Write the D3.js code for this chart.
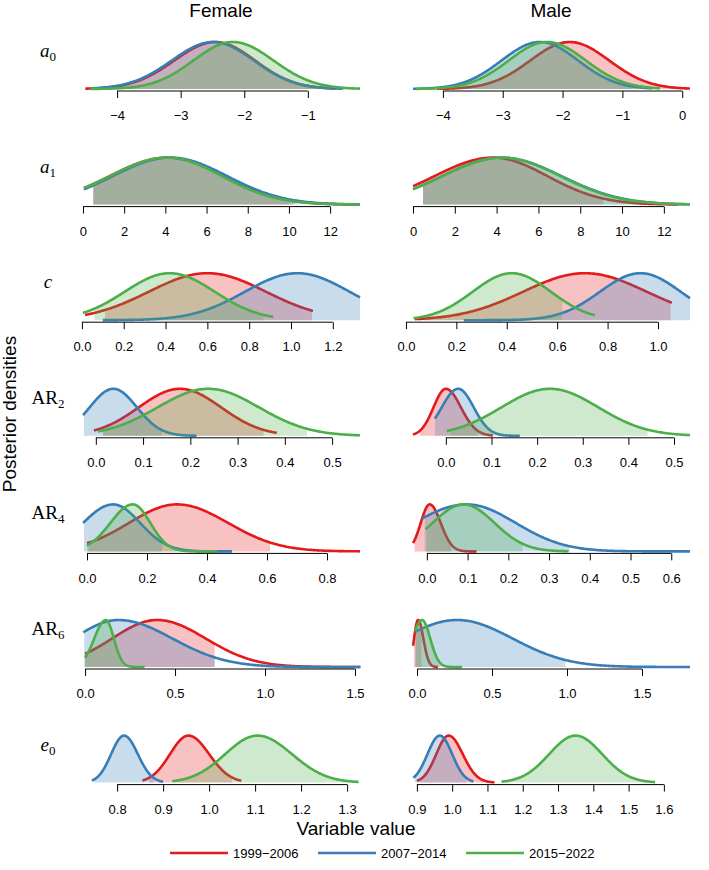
<!DOCTYPE html>
<html lang="en">
<head>
<meta charset="UTF-8">
<title>Posterior densities</title>
<style>
  body { margin: 0; background: #fff; }
  svg { display: block; font-family: "Liberation Sans", Arial, sans-serif; }
  .tick text { font-size: 13px; fill: #000; }
  .tick line, .domain { stroke: #000; stroke-width: 1; }
  .rowlab { font-family: "Liberation Serif", "DejaVu Serif", serif; font-size: 19px; }
</style>
</head>
<body>
<div id="chart"></div>
<script src="https://cdn.jsdelivr.net/npm/d3@7/dist/d3.min.js"></script>
<script>
// ---- data ----
const sexes = ["Female", "Male"];
const params = ["a0", "a1", "c", "AR2", "AR4", "AR6", "e0"];
const periods = ["1999\u22122006", "2007\u22122014", "2015\u22122022"];

const femaleTicks = [
  [-4, -3, -2, -1],
  [0, 2, 4, 6, 8, 10, 12],
  [0, 0.2, 0.4, 0.6, 0.8, 1.0, 1.2],
  [0, 0.1, 0.2, 0.3, 0.4, 0.5],
  [0, 0.2, 0.4, 0.6, 0.8],
  [0, 0.5, 1.0, 1.5],
  [0.8, 0.9, 1.0, 1.1, 1.2, 1.3]
];
const maleTicks = [
  [-4, -3, -2, -1, 0],
  [0, 2, 4, 6, 8, 10, 12],
  [0, 0.2, 0.4, 0.6, 0.8, 1.0],
  [0, 0.1, 0.2, 0.3, 0.4, 0.5],
  [0, 0.1, 0.2, 0.3, 0.4, 0.5, 0.6],
  [0, 0.5, 1.0, 1.5],
  [0.9, 1.0, 1.1, 1.2, 1.3, 1.4, 1.5, 1.6]
];
// x range shown in each panel
const femaleLim = [[-4.52, -0.18], [0.05, 13.45], [0.01, 1.33], [-0.025, 0.559], [-0.01, 0.91], [-0.006, 1.528], [0.728, 1.328]];
const maleLim = [[-4.50, 0.13], [0.0, 13.25], [0.028, 1.127], [-0.072, 0.535], [-0.034, 0.646], [-0.027, 1.82], [0.889, 1.674]];

// each row: [line from, line to, mode, spread left, spread right, shade from, shade to]
// order: 1999-2006, 2007-2014, 2015-2022
const femaleA0 = [[-4.50, -0.55, -2.45, 0.65, 0.62, -3.98, -0.90], [-4.40, -0.45, -2.49, 0.65, 0.64, -3.98, -0.87], [-4.42, -0.18, -2.18, 0.62, 0.64, -3.85, -0.62]];
const maleA0 = [[-4.10, 0.13, -1.88, 0.66, 0.66, -3.63, -0.12], [-4.50, -0.51, -2.38, 0.64, 0.64, -3.88, -0.82], [-4.45, -0.37, -2.26, 0.64, 0.65, -3.88, -0.71]];
const femaleA1 = [[0.05, 13.40, 4.10, 2.80, 2.70, 0.5, 10.2], [0.05, 13.45, 4.25, 2.80, 2.75, 0.5, 10.4], [0.05, 13.45, 4.10, 2.80, 2.65, 0.5, 10.0]];
const maleA1 = [[0.0, 12.70, 3.83, 2.80, 2.60, 0.48, 9.1], [0.0, 13.25, 4.25, 2.85, 2.85, 0.48, 10.8], [0.0, 13.25, 4.25, 2.85, 2.80, 0.48, 10.7]];
const femaleC = [[0.015, 1.105, 0.60, 0.28, 0.28, 0.11, 1.10], [0.10, 1.33, 1.03, 0.25, 0.25, 0.10, 1.33], [0.005, 0.915, 0.42, 0.215, 0.215, 0.06, 0.87]];
const maleC = [[0.036, 1.055, 0.71, 0.245, 0.245, 0.05, 1.05], [0.23, 1.127, 0.93, 0.16, 0.16, 0.23, 1.127], [0.03, 0.75, 0.42, 0.155, 0.155, 0.07, 0.62]];
const femaleAR2 = [[-0.004, 0.383, 0.178, 0.087, 0.087, 0.015, 0.355], [-0.027, 0.213, 0.037, 0.05, 0.05, -0.025, 0.14], [0.005, 0.559, 0.238, 0.107, 0.107, 0.015, 0.447]];
const maleAR2 = [[-0.072, 0.103, 0.0, 0.027, 0.033, -0.057, 0.07], [-0.024, 0.162, 0.027, 0.036, 0.034, -0.024, 0.10], [0.002, 0.535, 0.228, 0.106, 0.106, 0.01, 0.442]];
const femaleAR4 = [[0.0, 0.91, 0.30, 0.16, 0.17, 0.005, 0.61], [-0.013, 0.483, 0.087, 0.10, 0.09, -0.01, 0.25], [0.0, 0.433, 0.153, 0.075, 0.058, 0.0, 0.30]];
const maleAR4 = [[-0.034, 0.122, 0.007, 0.022, 0.027, -0.03, 0.06], [-0.012, 0.646, 0.098, 0.13, 0.12, -0.005, 0.35], [-0.003, 0.348, 0.09, 0.076, 0.076, 0.0, 0.235]];
const femaleAR6 = [[0.0, 1.53, 0.40, 0.25, 0.27, 0.0, 0.72], [-0.01, 1.53, 0.185, 0.25, 0.30, -0.005, 0.72], [0.0, 0.33, 0.115, 0.064, 0.045, 0.0, 0.25]];
const maleAR6 = [[-0.027, 0.14, 0.007, 0.027, 0.035, -0.02, 0.03], [-0.013, 1.82, 0.267, 0.37, 0.37, -0.01, 0.99], [-0.013, 0.30, 0.033, 0.063, 0.055, -0.01, 0.15]];
const femaleE0 = [[0.855, 1.07, 0.955, 0.04, 0.045, 0.87, 1.05], [0.745, 0.90, 0.815, 0.028, 0.03, 0.75, 0.88], [0.92, 1.325, 1.105, 0.07, 0.075, 0.93, 1.30]];
const maleE0 = [[0.90, 1.12, 0.99, 0.035, 0.04, 0.91, 1.09], [0.89, 1.06, 0.965, 0.035, 0.035, 0.895, 1.04], [1.14, 1.575, 1.35, 0.075, 0.075, 1.15, 1.55]];

const femaleCurves = [femaleA0, femaleA1, femaleC, femaleAR2, femaleAR4, femaleAR6, femaleE0];
const maleCurves = [maleA0, maleA1, maleC, maleAR2, maleAR4, maleAR6, maleE0];

// ---- layout ----
const width = 709, height = 870;
const colors = ["#E41A1C", "#377EB8", "#4DAF4A"];
const colRange = [[84, 360], [413, 690]];
const rowAxisY = i => 91 + 115.6 * i;

const svg = d3.select("#chart").append("svg")
  .attr("width", width)
  .attr("height", height);
svg.append("rect").attr("width", width).attr("height", height).attr("fill", "#fff");

// row labels: [main, subscript, italic]
const rowLabels = [["a", "0", true], ["a", "1", true], ["c", "", true], ["AR", "2", false], ["AR", "4", false], ["AR", "6", false], ["e", "0", true]];

const fmt = [d3.format("d"), d3.format("d"), d3.format(".1f"), d3.format(".1f"), d3.format(".1f"), d3.format(".1f"), d3.format(".1f")];

params.forEach((p, i) => {
  const ay = rowAxisY(i);

  const lab = svg.append("text").attr("class", "rowlab")
    .attr("x", 48).attr("y", ay - 34)
    .attr("text-anchor", "middle");
  lab.append("tspan").text(rowLabels[i][0])
    .style("font-style", rowLabels[i][2] ? "italic" : "normal");
  if (rowLabels[i][1]) {
    lab.append("tspan").text(rowLabels[i][1])
      .attr("dy", 4).style("font-size", "13px");
  }

  [femaleCurves, maleCurves].forEach((set, c) => {
    const lim = c === 0 ? femaleLim[i] : maleLim[i];
    const ticks = c === 0 ? femaleTicks[i] : maleTicks[i];
    const x = d3.scaleLinear().domain(lim).range(colRange[c]);
    const y = d3.scaleLinear().domain([0, 1]).range([ay - 2, ay - 49]);

    const g = svg.append("g");
    set[i].forEach((cv, k) => {
      const [lo, hi, mode, sl, sr, s0, s1] = cv;
      const dens = v => {
        const s = v < mode ? sl : sr;
        return Math.exp(-((v - mode) * (v - mode)) / (2 * s * s));
      };
      const xs = d3.range(0, 201).map(j => lo + (hi - lo) * j / 200);
      const ss = d3.range(0, 201).map(j => s0 + (s1 - s0) * j / 200);

      g.append("path")
        .attr("d", d3.line().x(v => x(v)).y(v => y(dens(v)))(xs))
        .attr("fill", "none")
        .attr("stroke", colors[k])
        .attr("stroke-width", 2.6);

      g.append("path")
        .attr("d", d3.area().x(v => x(v)).y0(y(0)).y1(v => y(dens(v)))(ss))
        .attr("fill", colors[k])
        .attr("fill-opacity", 0.27);
    });

    const axis = d3.axisBottom(x)
      .tickValues(ticks)
      .tickFormat(fmt[i])
      .tickSize(7)
      .tickSizeOuter(0)
      .tickPadding(13);
    const ag = svg.append("g")
      .attr("transform", `translate(0,${ay})`)
      .call(axis);
    ag.select(".domain").attr("d", `M${x(ticks[0])},0H${x(ticks[ticks.length - 1])}`);
    ag.selectAll(".tick text").style("font-family", "'Liberation Sans', Arial, sans-serif");
  });
});

// column titles
sexes.forEach((s, c) => {
  svg.append("text")
    .attr("x", c === 0 ? 221 : 551)
    .attr("y", 17)
    .attr("text-anchor", "middle")
    .style("font-size", "19px")
    .text(s);
});

svg.append("text")
  .attr("transform", "translate(16,414) rotate(-90)")
  .attr("text-anchor", "middle")
  .style("font-size", "19px")
  .text("Posterior densities");

svg.append("text")
  .attr("x", 356).attr("y", 835)
  .attr("text-anchor", "middle")
  .style("font-size", "19px")
  .text("Variable value");

// legend
const legX = [170, 318, 466];
periods.forEach((p, k) => {
  svg.append("line")
    .attr("x1", legX[k]).attr("x2", legX[k] + 58)
    .attr("y1", 853).attr("y2", 853)
    .attr("stroke", colors[k]).attr("stroke-width", 2.6);
  svg.append("text")
    .attr("x", legX[k] + 63).attr("y", 858)
    .style("font-size", "13px")
    .text(p);
});
</script>
</body>
</html>
